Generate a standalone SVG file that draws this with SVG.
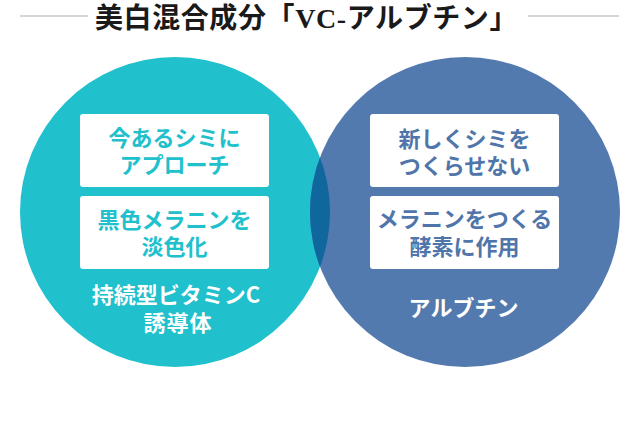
<svg xmlns="http://www.w3.org/2000/svg" width="640" height="437" viewBox="0 0 640 437">
  <style>
    .title { font-family: "Liberation Serif", "Noto Sans CJK JP", serif; font-size: 28px; font-weight: bold; fill: #1a1a1a; }
    .rule { stroke: #c8c8c8; stroke-width: 1.5; }
    .box { fill: #ffffff; }
    .bt { font-family: "Noto Sans CJK JP", sans-serif; font-size: 22px; font-weight: bold; text-anchor: middle; }
    .teal { fill: #20c0cc; }
    .blue { fill: #4f75aa; }
    .lbl { font-family: "Noto Sans CJK JP", sans-serif; font-size: 22px; font-weight: bold; fill: #ffffff; text-anchor: middle; }
  </style>
  <defs>
    <clipPath id="clipL">
      <circle cx="175" cy="212" r="155"/>
    </clipPath>
  </defs>
  <rect width="640" height="437" fill="#ffffff"/>

  <g id="title">
    <line class="rule" x1="20" y1="16" x2="88" y2="16"/>
    <line class="rule" x1="528" y1="16" x2="619" y2="16"/>
    <text class="title" x="306.5" y="28" text-anchor="middle" letter-spacing="0.6">美白混合成分「VC-アルブチン」</text>
  </g>

  <g id="circle-left">
    <circle cx="175" cy="212" r="155" fill="#20c0cc"/>
  </g>
  <g id="circle-right">
    <circle cx="465" cy="212" r="155" fill="#527aae"/>
  </g>
  <g id="overlap">
    <circle cx="465" cy="212" r="155" fill="#0f679d" clip-path="url(#clipL)"/>
  </g>

  <g id="box-left-1">
    <rect class="box" x="80" y="114" width="189" height="73" rx="3"/>
    <text class="bt teal" x="174.5" y="146">今あるシミに</text>
    <text class="bt teal" x="174.5" y="173">アプローチ</text>
  </g>
  <g id="box-left-2">
    <rect class="box" x="80" y="196" width="189" height="73" rx="3"/>
    <text class="bt teal" x="174.5" y="228">黒色メラニンを</text>
    <text class="bt teal" x="174.5" y="255">淡色化</text>
  </g>
  <g id="label-left">
    <text class="lbl" x="176" y="303">持続型ビタミンC</text>
    <text class="lbl" x="178" y="331" letter-spacing="1">誘導体</text>
  </g>

  <g id="box-right-1">
    <rect class="box" x="370" y="114" width="189" height="73" rx="3"/>
    <text class="bt blue" x="464.5" y="147">新しくシミを</text>
    <text class="bt blue" x="464.5" y="174">つくらせない</text>
  </g>
  <g id="box-right-2">
    <rect class="box" x="370" y="196" width="189" height="73" rx="3"/>
    <text class="bt blue" x="464.5" y="227">メラニンをつくる</text>
    <text class="bt blue" x="464.5" y="255">酵素に作用</text>
  </g>
  <g id="label-right">
    <text class="lbl" x="463.5" y="316">アルブチン</text>
  </g>
  <g id="connectors"/>
</svg>
